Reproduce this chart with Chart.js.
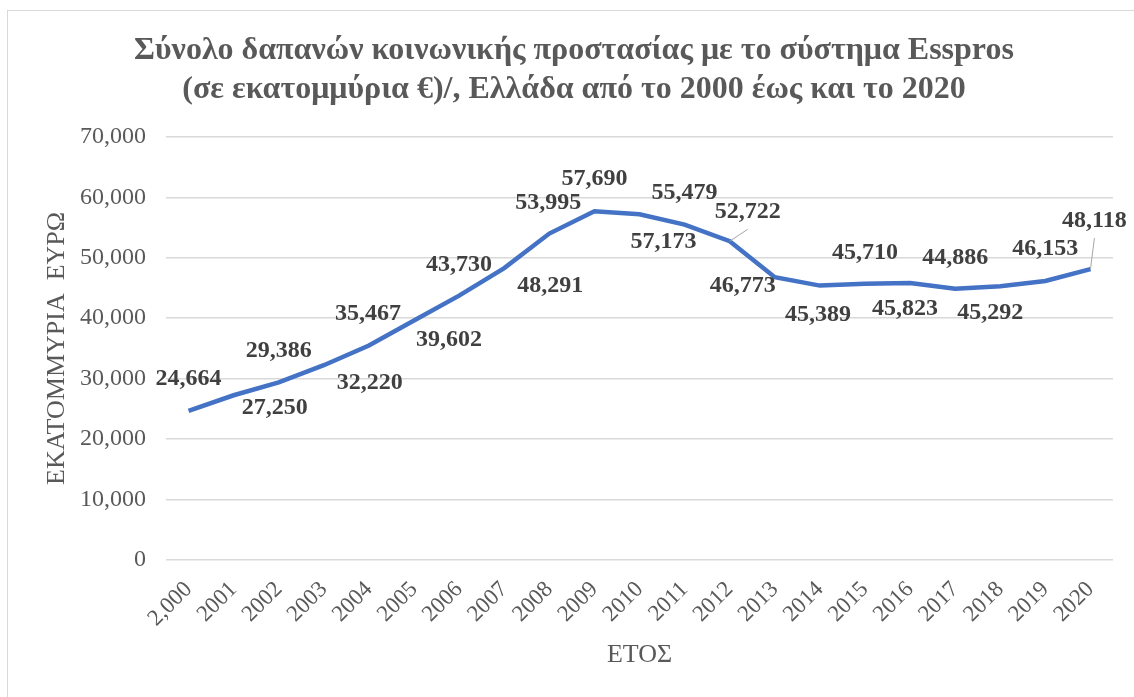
<!DOCTYPE html>
<html>
<head>
<meta charset="utf-8">
<script src="https://cdn.jsdelivr.net/npm/chart.js@4/dist/chart.umd.min.js"></script>
<style>
  body { margin: 0; background: #fff; }
  #wrap { width: 1134px; height: 697px; }
</style>
</head>
<body>
<div id="wrap"><canvas id="miGrafica" width="1134" height="697"></canvas></div>
<script>
// Datos del gráfico
const etiquetas = ['2,000', '2001', '2002', '2003', '2004', '2005', '2006', '2007', '2008', '2009', '2010',
                   '2011', '2012', '2013', '2014', '2015', '2016', '2017', '2018', '2019', '2020'];
const valores = [24664, 27250, 29386, 32220, 35467, 39602, 43730, 48291, 53995, 57690, 57173,
                 55479, 52722, 46773, 45389, 45710, 45823, 44886, 45292, 46153, 48118];
const tituloGrafico = ['Σύνολο δαπανών κοινωνικής προστασίας με το σύστημα Esspros',
                       '(σε εκατομμύρια €)/, Ελλάδα από το 2000 έως και το 2020'];
const tituloY = 'ΕΚΑΤΟΜΜΥΡΙΑ  ΕΥΡΩ';
const tituloX = 'ΕΤΟΣ';

const serif = "'Times New Roman', 'Liberation Serif', serif";

// posición de cada etiqueta respecto al punto (dx, dy) y si lleva línea guía
const posEtiquetas = [
  [0, -32], [41, 13], [0, -32], [46, 18], [-1, -32], [35, 19], [0, -31], [46, 18], [-1, -31], [0, -32],
  [24, 27], [0, -32], [18, -29, true], [-32, 9], [-2, 29], [0, -31], [-5, 26], [0, -31], [-10, 27],
  [0, -32], [4, -48, true]
];

// plugin simple para las etiquetas de datos
const etiquetasDatos = {
  id: 'etiquetasDatos',
  afterDatasetsDraw(chart) {
    const ctx = chart.ctx;
    const meta = chart.getDatasetMeta(0);
    ctx.save();
    ctx.font = 'bold 24px ' + serif;
    ctx.fillStyle = '#404040';
    ctx.textAlign = 'center';
    ctx.textBaseline = 'middle';
    meta.data.forEach((punto, i) => {
      const p = posEtiquetas[i];
      const cx = punto.x + p[0];
      const cy = punto.y + p[1];
      if (p[2]) {
        ctx.strokeStyle = '#a6a6a6';
        ctx.lineWidth = 1;
        ctx.beginPath();
        ctx.moveTo(punto.x, punto.y);
        ctx.lineTo(cx, cy + 17);
        ctx.stroke();
      }
      ctx.fillText(valores[i].toLocaleString('en-US'), cx, cy);
    });
    ctx.restore();
  }
};

// borde exterior del gráfico
const borde = {
  id: 'borde',
  beforeDraw(chart) {
    const ctx = chart.ctx;
    ctx.save();
    ctx.fillStyle = '#fff';
    ctx.fillRect(0, 0, chart.width, chart.height);
    ctx.strokeStyle = '#d9d9d9';
    ctx.lineWidth = 1;
    ctx.strokeRect(7.5, 10.5, chart.width + 10, chart.height + 10);
    ctx.restore();
  }
};

const ctx = document.getElementById('miGrafica').getContext('2d');
new Chart(ctx, {
  type: 'line',
  data: {
    labels: etiquetas,
    datasets: [{
      data: valores,
      borderColor: '#4472C4',
      borderWidth: 4.5,
      pointRadius: 0,
      tension: 0,
      fill: false
    }]
  },
  options: {
    responsive: false,
    animation: false,
    layout: { padding: { left: 35, right: 21, top: 10, bottom: 10 } },
    plugins: {
      legend: { display: false },
      tooltip: { enabled: false },
      title: {
        display: true,
        text: tituloGrafico,
        color: '#595959',
        font: { family: serif, size: 32, weight: 'bold', lineHeight: 1.2 },
        padding: { top: 22, bottom: 28 }
      }
    },
    scales: {
      x: {
        offset: true,
        grid: { display: false },
        border: { display: false },
        ticks: {
          color: '#595959',
          font: { family: serif, size: 23 },
          minRotation: 45,
          maxRotation: 45,
          padding: 8,
          autoSkip: false
        },
        title: {
          display: true,
          text: tituloX,
          color: '#595959',
          font: { family: serif, size: 26 },
          padding: { top: 0, bottom: 16 }
        },
        afterFit(scale) { scale.height = 127; }
      },
      y: {
        min: 0,
        max: 70000,
        grid: { color: '#d9d9d9', lineWidth: 1.5, drawTicks: false },
        border: { display: false },
        ticks: {
          stepSize: 10000,
          color: '#595959',
          font: { family: serif, size: 24 },
          padding: 20,
          callback: v => v.toLocaleString('en-US')
        },
        title: {
          display: true,
          text: tituloY,
          color: '#595959',
          font: { family: serif, size: 26 },
          padding: { top: 7, bottom: 0 }
        },
        afterFit(scale) { scale.width = 131; }
      }
    }
  },
  plugins: [borde, etiquetasDatos]
});
</script>
</body>
</html>
